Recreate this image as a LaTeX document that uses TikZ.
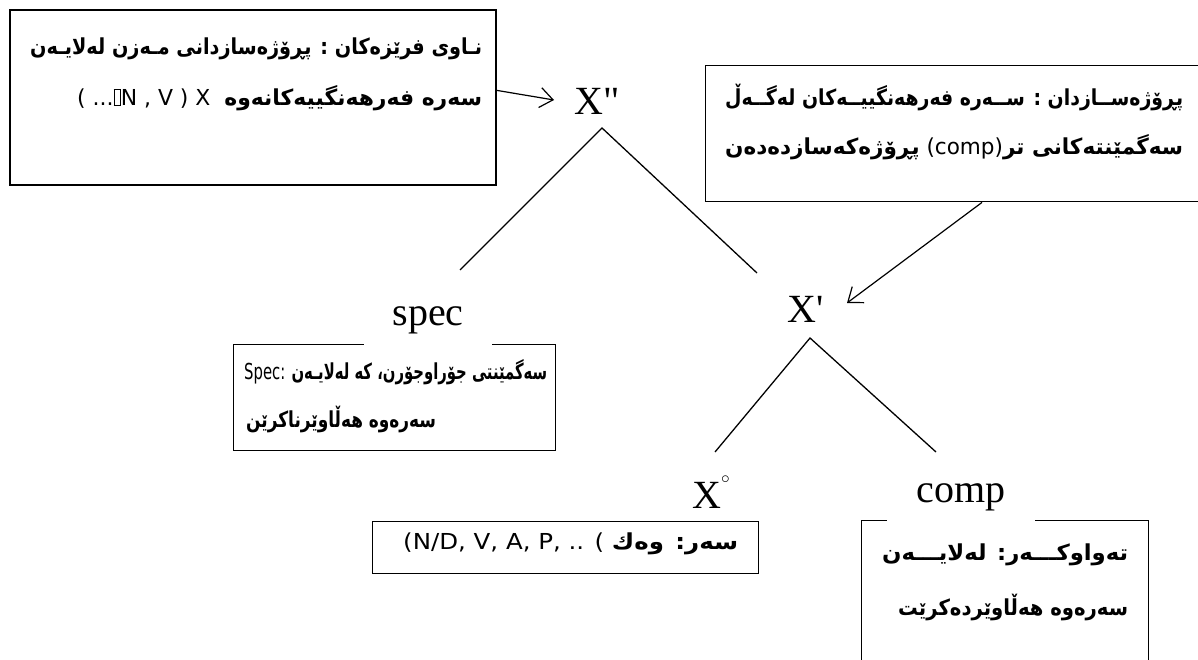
\documentclass[tikz,border=0pt]{standalone}
\usepackage{fontspec}
\usepackage{graphicx}
\usetikzlibrary{arrows.meta,calc}
\setmainfont{Liberation Serif}
\newfontfamily\treefont{Liberation Serif}
\newfontfamily\arfont[Script=Arabic]{DejaVu Sans}
\newfontfamily\latfont{DejaVu Sans}
\TeXXeTstate=1
\newcommand{\fitline}[2]{\resizebox{#1}{\height}{#2}}
\newcommand{\AR}[1]{{\arfont\bfseries\beginR #1\endR}}
\newcommand{\missglyph}{{\setlength{\fboxsep}{0pt}\setlength{\fboxrule}{0.6pt}\fbox{\rule{0pt}{16pt}\hspace{6pt}}}}
\tikzset{
  box/.style={draw, line width=1.4pt, inner sep=0pt, anchor=north west},
  treelbl/.style={inner sep=0pt, font=\treefont\fontsize{40}{40}\selectfont},
  txt/.style={inner sep=0pt, anchor=mid west, font=\fontsize{22}{26}\selectfont},
  branch/.style={line width=1.3pt},
  arr/.style={line width=1.2pt, -{Straight Barb[length=13pt,width=20pt,line width=1.2pt]}}
}
\begin{document}
\begin{tikzpicture}[x=1pt,y=-1pt]
\useasboundingbox (0,0) rectangle (1198,660);
\clip (0,0) rectangle (1198,660);
\fill[white] (0,0) rectangle (1198,660);

% boxes
\node[box, line width=2pt, minimum width=486pt, minimum height=175pt] (b1) at (9,9) {};
\node[box, minimum width=520pt, minimum height=136pt] (b2) at (705,65) {};
\node[box, minimum width=322pt, minimum height=106pt] (bspec) at (233,344) {};
\node[box, minimum width=386pt, minimum height=52pt] (bhead) at (372,521) {};
\node[box, minimum width=287pt, minimum height=170pt] (bcomp) at (861,520) {};

% tree labels
\node[treelbl] (xpp) at (597,101) {X"};
\node[treelbl] (xp) at (806,309) {X'};
\node[treelbl, fill=white, anchor=base, minimum width=128pt, text depth=22pt] (spec) at (428,325) {spec};
\node[treelbl, anchor=base] (x0) at (711,508) {X\raisebox{0.62em}{\fontsize{18}{18}\selectfont$\circ$}};
\node[treelbl, fill=white, anchor=base, minimum width=148pt, text depth=20pt] (comp) at (961,502) {comp};

% branch points
\coordinate (ap1) at (602,128);
\coordinate (l1) at (460,270);
\coordinate (r1) at (757,273);
\coordinate (ap2) at (810,338);
\coordinate (l2) at (715,452);
\coordinate (r2) at (936,452);
\draw[branch] (l1) -- (ap1) -- (r1);
\draw[branch] (l2) -- (ap2) -- (r2);

% arrows
\coordinate (a1s) at ($(b1.north east)!0.46!(b1.south east)$);
\coordinate (tip1) at (554,100);
\draw[arr] (a1s) -- (tip1);
\coordinate (a2s) at ($(b2.south west)+(277,0)$);
\coordinate (tip2) at (847,303);
\draw[arr] (a2s) -- (tip2);

% texts box 1
\node[txt] (t11) at (30,52) {\fitline{452pt}{\AR{نـاوی فرێزەکان : پڕۆژەسازدانی مـەزن لەلایـەن}}};
\node[txt] (t12) at (77,103) {\fitline{405pt}{{\latfont ( ...\missglyph N , V ) X\ \ }\AR{سەرە فەرهەنگییەکانەوە}}};

% texts box 2
\node[txt] (t21) at (725,103) {\fitline{458pt}{\AR{پڕۆژەســازدان : ســەرە فەرهەنگییــەکان لەگــەڵ}}};
\node[txt] (t22) at (725,152) {\fitline{458pt}{\AR{پڕۆژەکەسازدەدەن}{\latfont\ (comp)}\AR{سەگمێنتەکانی تر}}};

% spec box
\node[txt] (t31) at (244,377) {\fitline{303pt}{{\latfont Spec: }\AR{سەگمێنتی جۆراوجۆرن، که لەلایـەن}}};
\node[txt] (t32) at (246,425) {\fitline{190pt}{\AR{سەرەوە هەڵاوێرناکرێن}}};

% head box
\node[txt] (t41) at (403,547) {\fitline{335pt}{{\latfont (N/D, V, A, P, .. ( }\AR{سەر:  وەك}}};

% comp box
\node[txt] (t51) at (882,558) {\fitline{246pt}{\AR{تەواوکـــەر:  لەلایـــەن}}};
\node[txt] (t52) at (898,613) {\fitline{230pt}{\AR{سەرەوە  هەڵاوێردەکرێت}}};
\end{tikzpicture}
\end{document}
